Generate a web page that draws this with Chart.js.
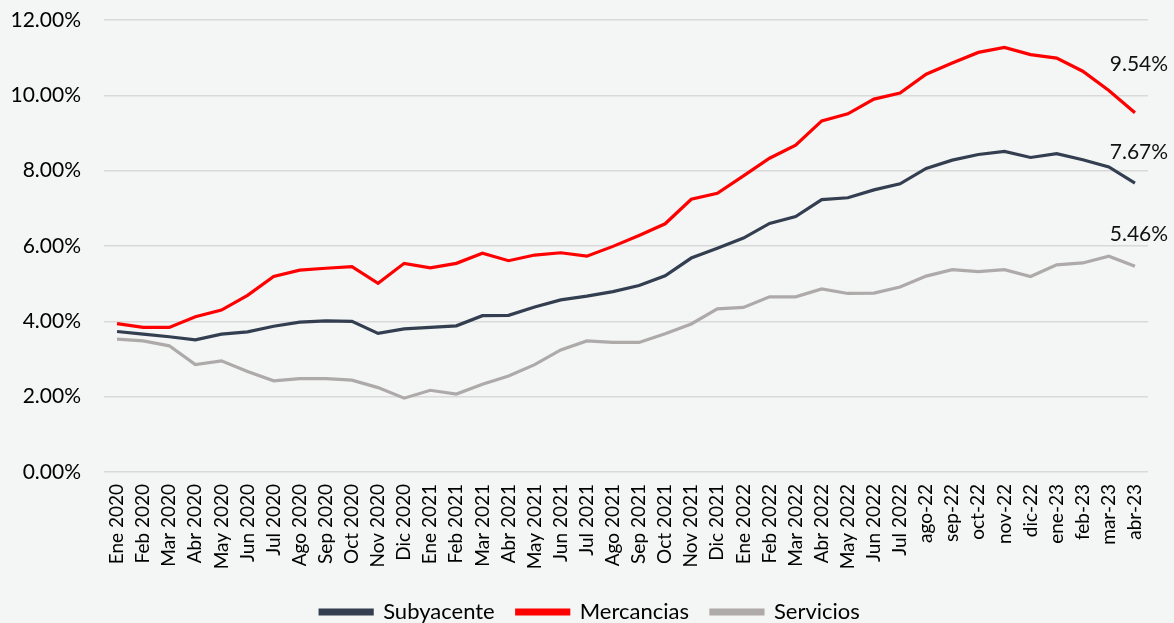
<!DOCTYPE html>
<html>
<head>
<meta charset="utf-8">
<script src="https://cdn.jsdelivr.net/npm/chart.js@4/dist/chart.umd.min.js"></script>
<style>
	html, body { margin: 0; padding: 0; background: #f4f5f5; }
	#wrap { width: 1174px; height: 623px; }
</style>
</head>
<body>
<div id="wrap"><canvas id="inflation-chart"></canvas></div>
<script>
const months = ['Ene 2020', 'Feb 2020', 'Mar 2020', 'Abr 2020', 'May 2020', 'Jun 2020', 'Jul 2020', 'Ago 2020', 'Sep 2020', 'Oct 2020', 'Nov 2020', 'Dic 2020',
	'Ene 2021', 'Feb 2021', 'Mar 2021', 'Abr 2021', 'May 2021', 'Jun 2021', 'Jul 2021', 'Ago 2021', 'Sep 2021', 'Oct 2021', 'Nov 2021', 'Dic 2021',
	'Ene 2022', 'Feb 2022', 'Mar 2022', 'Abr 2022', 'May 2022', 'Jun 2022', 'Jul 2022', 'ago-22', 'sep-22', 'oct-22', 'nov-22', 'dic-22',
	'ene-23', 'feb-23', 'mar-23', 'abr-23'];

const subyacente = [3.73, 3.66, 3.59, 3.51, 3.66, 3.72, 3.87, 3.98, 4.01, 4.00, 3.68, 3.80,
	3.84, 3.88, 4.15, 4.16, 4.38, 4.57, 4.67, 4.79, 4.95, 5.21, 5.68, 5.94,
	6.21, 6.60, 6.78, 7.23, 7.28, 7.49, 7.65, 8.06, 8.28, 8.43, 8.51, 8.35,
	8.45, 8.29, 8.10, 7.67];

const mercancias = [3.94, 3.84, 3.84, 4.12, 4.30, 4.69, 5.19, 5.36, 5.41, 5.45, 5.01, 5.54,
	5.42, 5.54, 5.81, 5.61, 5.76, 5.82, 5.73, 5.99, 6.28, 6.59, 7.24, 7.40,
	7.86, 8.33, 8.68, 9.32, 9.51, 9.90, 10.06, 10.56, 10.86, 11.14, 11.27, 11.08,
	10.99, 10.64, 10.13, 9.54];

const servicios = [3.53, 3.48, 3.35, 2.85, 2.95, 2.67, 2.42, 2.48, 2.48, 2.44, 2.24, 1.96,
	2.17, 2.07, 2.33, 2.55, 2.85, 3.24, 3.48, 3.44, 3.44, 3.67, 3.93, 4.33,
	4.37, 4.65, 4.65, 4.86, 4.74, 4.75, 4.91, 5.20, 5.37, 5.32, 5.37, 5.19,
	5.50, 5.55, 5.73, 5.46];

const yTicks = [0, 2, 4, 6, 8, 10, 12];

const font = 'Lato';

// last value of each line written above its end point
const endLabels = {
	id: 'endLabels',
	afterDatasetsDraw(chart) {
		const ctx = chart.ctx;
		const lift = [31, 48, 32];
		ctx.save();
		ctx.font = '21px ' + font;
		ctx.fillStyle = '#111';
		ctx.textAlign = 'center';
		ctx.textBaseline = 'middle';
		chart.data.datasets.forEach((ds, i) => {
			const pts = chart.getDatasetMeta(i).data;
			const last = pts[pts.length - 1];
			const v = ds.data[ds.data.length - 1];
			ctx.fillText(v.toFixed(2) + '%', last.x + 4, last.y - lift[i]);
		});
		ctx.restore();
	}
};

// the legend sits a bit right of the canvas centre in the original
const nudgeLegend = {
	id: 'nudgeLegend',
	afterLayout(chart) {
		chart.legend.left += 16;
		chart.legend.right += 16;
	}
};

const lineSet = (label, data, color) => ({
	label: label,
	data: data,
	borderColor: color,
	backgroundColor: color,
	borderWidth: 3.2,
	pointRadius: 0,
	tension: 0,
	fill: false
});

new Chart(document.getElementById('inflation-chart'), {
	type: 'line',
	data: {
		labels: months,
		datasets: [
			lineSet('Subyacente', subyacente, '#333f50'),
			lineSet('Mercancias', mercancias, '#ff0000'),
			lineSet('Servicios', servicios, '#aeaaaa')
		]
	},
	options: {
		responsive: true,
		maintainAspectRatio: false,
		animation: false,
		layout: {
			padding: { top: 20, right: 26, left: 0, bottom: -10 }
		},
		scales: {
			x: {
				offset: true,
				afterFit: scale => {
					scale.height = 107;
				},
				grid: { display: false },
				border: { display: false },
				ticks: {
					autoSkip: false,
					maxRotation: 90,
					minRotation: 90,
					padding: 4,
					color: '#000',
					font: { family: font, size: 19 }
				}
			},
			y: {
				min: 0,
				max: 12,
				afterBuildTicks: scale => {
					scale.ticks = yTicks.map(v => ({ value: v }));
				},
				afterFit: scale => {
					scale.width = 104;
				},
				grid: { color: '#d9d9d9', lineWidth: 1.5, tickLength: 23, tickColor: 'transparent' },
				border: { display: false },
				ticks: {
					padding: 0,
					color: '#000',
					font: { family: font, size: 21 },
					callback: v => v.toFixed(2) + '%'
				}
			}
		},
		plugins: {
			legend: {
				position: 'bottom',
				labels: {
					boxWidth: 52,
					boxHeight: 4,
					padding: 22,
					color: '#000',
					font: { family: font, size: 22 }
				}
			},
			tooltip: { enabled: false }
		}
	},
	plugins: [endLabels, nudgeLegend]
});
</script>
</body>
</html>
